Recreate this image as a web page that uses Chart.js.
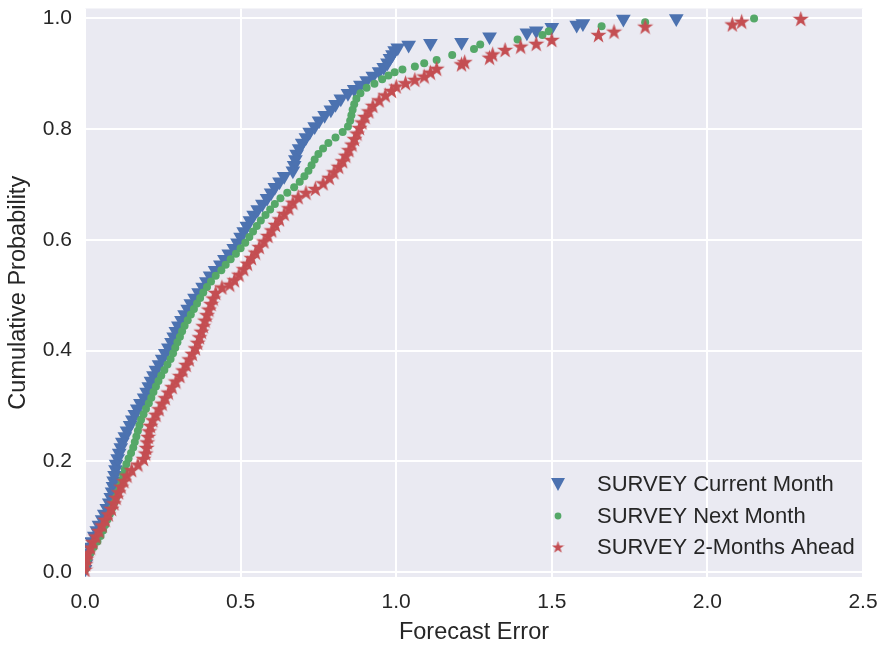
<!DOCTYPE html>
<html>
<head>
<meta charset="utf-8">
<script src="https://cdn.jsdelivr.net/npm/chart.js@4"></script>
<style>
  html, body { margin: 0; padding: 0; background: #fff; }
  #wrap { width: 883px; height: 647px; }
</style>
</head>
<body>
<div id="wrap"><canvas id="myChart" width="883" height="647"></canvas></div>
<script>
const seriesNames = ['SURVEY Current Month', 'SURVEY Next Month', 'SURVEY 2-Months Ahead'];
const xTicks = [0, 0.5, 1.0, 1.5, 2.0, 2.5];
const yTicks = [0, 0.2, 0.4, 0.6, 0.8, 1.0];

const xCurrent = [0.000, 0.003, 0.006, 0.010, 0.015, 0.022, 0.030, 0.038, 0.045, 0.055,
  0.062, 0.070, 0.078, 0.083, 0.087, 0.090, 0.092, 0.095, 0.098, 0.100,
  0.105, 0.110, 0.115, 0.120, 0.128, 0.135, 0.145, 0.152, 0.160, 0.168,
  0.178, 0.190, 0.198, 0.205, 0.212, 0.220, 0.228, 0.238, 0.248, 0.258,
  0.268, 0.278, 0.285, 0.292, 0.300, 0.310, 0.320, 0.330, 0.340, 0.352,
  0.365, 0.378, 0.390, 0.402, 0.418, 0.435, 0.448, 0.462, 0.478, 0.490,
  0.500, 0.510, 0.520, 0.530, 0.542, 0.555, 0.570, 0.585, 0.598, 0.610,
  0.625, 0.640, 0.668, 0.672, 0.676, 0.680, 0.688, 0.698, 0.710, 0.722,
  0.738, 0.752, 0.770, 0.790, 0.805, 0.822, 0.845, 0.865, 0.885, 0.905,
  0.925, 0.945, 0.960, 0.972, 0.980, 0.988, 0.995, 1.005, 1.040, 1.110,
  1.210, 1.300, 1.420, 1.450, 1.500, 1.580, 1.600, 1.730, 1.900];
const yCurrent = [0.005, 0.015, 0.025, 0.035, 0.045, 0.055, 0.065, 0.075, 0.085, 0.095,
  0.105, 0.115, 0.125, 0.135, 0.145, 0.155, 0.165, 0.175, 0.185, 0.195,
  0.205, 0.215, 0.225, 0.235, 0.245, 0.255, 0.265, 0.275, 0.285, 0.295,
  0.305, 0.315, 0.325, 0.335, 0.345, 0.355, 0.365, 0.375, 0.385, 0.395,
  0.405, 0.415, 0.425, 0.435, 0.445, 0.455, 0.465, 0.475, 0.485, 0.495,
  0.505, 0.515, 0.525, 0.535, 0.545, 0.555, 0.565, 0.575, 0.585, 0.595,
  0.605, 0.615, 0.625, 0.635, 0.645, 0.655, 0.665, 0.675, 0.685, 0.695,
  0.705, 0.715, 0.725, 0.735, 0.745, 0.755, 0.765, 0.775, 0.785, 0.795,
  0.805, 0.815, 0.825, 0.835, 0.845, 0.855, 0.865, 0.872, 0.880, 0.888,
  0.896, 0.904, 0.912, 0.920, 0.928, 0.935, 0.942, 0.947, 0.952, 0.955,
  0.957, 0.967, 0.974, 0.978, 0.984, 0.988, 0.991, 0.999, 1.000];

const xNext = [0.000, 0.004, 0.010, 0.018, 0.028, 0.040, 0.050, 0.058, 0.065, 0.072,
  0.080, 0.087, 0.094, 0.100, 0.106, 0.112, 0.118, 0.123, 0.128, 0.133,
  0.140, 0.148, 0.155, 0.160, 0.165, 0.170, 0.175, 0.180, 0.188, 0.196,
  0.205, 0.213, 0.220, 0.228, 0.236, 0.245, 0.255, 0.265, 0.275, 0.283,
  0.290, 0.297, 0.305, 0.312, 0.320, 0.330, 0.340, 0.350, 0.360, 0.370,
  0.380, 0.392, 0.405, 0.420, 0.438, 0.452, 0.468, 0.485, 0.500, 0.515,
  0.528, 0.540, 0.552, 0.565, 0.580, 0.595, 0.610, 0.628, 0.650, 0.672,
  0.690, 0.705, 0.718, 0.728, 0.738, 0.750, 0.765, 0.782, 0.805, 0.828,
  0.845, 0.852, 0.856, 0.860, 0.865, 0.872, 0.885, 0.905, 0.930, 0.955,
  0.975, 0.995, 1.020, 1.060, 1.090, 1.130, 1.180, 1.250, 1.270, 1.390,
  1.470, 1.490, 1.660, 1.800, 2.150];
const yNext = [0.005, 0.015, 0.025, 0.035, 0.045, 0.055, 0.065, 0.075, 0.085, 0.095,
  0.105, 0.115, 0.125, 0.135, 0.145, 0.155, 0.165, 0.175, 0.185, 0.195,
  0.205, 0.215, 0.225, 0.235, 0.245, 0.255, 0.265, 0.275, 0.285, 0.295,
  0.305, 0.315, 0.325, 0.335, 0.345, 0.355, 0.365, 0.375, 0.385, 0.395,
  0.405, 0.415, 0.425, 0.435, 0.445, 0.455, 0.465, 0.475, 0.485, 0.495,
  0.505, 0.515, 0.525, 0.535, 0.545, 0.555, 0.565, 0.575, 0.585, 0.595,
  0.605, 0.615, 0.625, 0.635, 0.645, 0.655, 0.665, 0.675, 0.685, 0.695,
  0.705, 0.715, 0.725, 0.735, 0.745, 0.755, 0.765, 0.775, 0.785, 0.795,
  0.805, 0.815, 0.825, 0.835, 0.845, 0.855, 0.865, 0.875, 0.882, 0.890,
  0.897, 0.903, 0.908, 0.913, 0.919, 0.925, 0.934, 0.945, 0.953, 0.962,
  0.970, 0.977, 0.986, 0.993, 1.000];

const xAhead = [0.000, 0.002, 0.005, 0.010, 0.018, 0.025, 0.035, 0.045, 0.055, 0.065,
  0.075, 0.085, 0.093, 0.100, 0.108, 0.116, 0.125, 0.135, 0.150, 0.170,
  0.188, 0.195, 0.198, 0.200, 0.203, 0.206, 0.210, 0.218, 0.228, 0.238,
  0.248, 0.258, 0.268, 0.280, 0.292, 0.305, 0.315, 0.325, 0.335, 0.345,
  0.355, 0.362, 0.368, 0.374, 0.380, 0.386, 0.392, 0.398, 0.405, 0.412,
  0.420, 0.440, 0.465, 0.480, 0.495, 0.510, 0.522, 0.535, 0.548, 0.560,
  0.575, 0.588, 0.600, 0.612, 0.625, 0.640, 0.655, 0.668, 0.685, 0.710,
  0.740, 0.765, 0.785, 0.800, 0.815, 0.828, 0.838, 0.848, 0.858, 0.866,
  0.874, 0.882, 0.890, 0.900, 0.912, 0.925, 0.945, 0.965, 0.985, 1.000,
  1.030, 1.060, 1.090, 1.110, 1.130, 1.210, 1.220, 1.300, 1.310, 1.350,
  1.400, 1.450, 1.500, 1.650, 1.700, 1.800, 2.080, 2.110, 2.300];
const yAhead = [0.005, 0.015, 0.025, 0.035, 0.045, 0.055, 0.065, 0.075, 0.085, 0.095,
  0.105, 0.115, 0.125, 0.135, 0.145, 0.155, 0.165, 0.175, 0.185, 0.195,
  0.205, 0.215, 0.225, 0.235, 0.245, 0.255, 0.265, 0.275, 0.285, 0.295,
  0.305, 0.315, 0.325, 0.335, 0.345, 0.355, 0.365, 0.375, 0.385, 0.395,
  0.405, 0.415, 0.425, 0.435, 0.445, 0.455, 0.465, 0.475, 0.485, 0.495,
  0.505, 0.515, 0.520, 0.528, 0.538, 0.548, 0.558, 0.568, 0.578, 0.588,
  0.598, 0.608, 0.618, 0.628, 0.638, 0.648, 0.658, 0.668, 0.678, 0.686,
  0.693, 0.703, 0.713, 0.723, 0.733, 0.743, 0.753, 0.763, 0.773, 0.783,
  0.793, 0.803, 0.813, 0.823, 0.833, 0.843, 0.853, 0.862, 0.870, 0.878,
  0.884, 0.890, 0.896, 0.903, 0.910, 0.918, 0.922, 0.930, 0.936, 0.944,
  0.950, 0.955, 0.962, 0.971, 0.977, 0.986, 0.990, 0.995, 1.000];

const BLUE = '#4C72B0', GREEN = '#55A868', RED = '#C44E52', TEXT = '#262626';
Chart.defaults.font.family = '"Liberation Sans", Arial, sans-serif';

function pts(xs, ys) {
  return xs.map((x, i) => ({ x: x, y: ys[i] }));
}

// filled five-pointed star like matplotlib's '*' marker
function starImage(size, color) {
  const c = document.createElement('canvas');
  c.width = size; c.height = size;
  const g = c.getContext('2d');
  const R = size / 2, r = R * 0.39;
  g.beginPath();
  for (let i = 0; i < 10; i++) {
    const a = -Math.PI / 2 + i * Math.PI / 5;
    const rad = i % 2 ? r : R;
    g.lineTo(R + rad * Math.cos(a), R + 1 + rad * Math.sin(a));
  }
  g.closePath();
  g.fillStyle = color;
  g.fill();
  return c;
}
const starBig = starImage(17, RED);
const starSmall = starImage(13, RED);

const bgPlugin = {
  id: 'plotBg',
  beforeDraw(chart) {
    const a = chart.chartArea, ctx = chart.ctx;
    ctx.save();
    ctx.fillStyle = '#EAEAF2';
    ctx.fillRect(a.left, a.top, a.right - a.left, a.bottom - a.top);
    ctx.restore();
  }
};

const legendPlugin = {
  id: 'insideLegend',
  afterDraw(chart) {
    const ctx = chart.ctx;
    const mx = 558, tx = 597;
    const rows = [484, 516, 547];
    ctx.save();
    // triangle down
    ctx.fillStyle = BLUE;
    ctx.beginPath();
    ctx.moveTo(mx - 7, rows[0] - 6);
    ctx.lineTo(mx + 7, rows[0] - 6);
    ctx.lineTo(mx, rows[0] + 7);
    ctx.closePath();
    ctx.fill();
    // dot
    ctx.fillStyle = GREEN;
    ctx.beginPath();
    ctx.arc(mx, rows[1], 3.4, 0, Math.PI * 2);
    ctx.fill();
    // star
    ctx.drawImage(starSmall, mx - 6.5, rows[2] - 7);
    ctx.fillStyle = TEXT;
    ctx.font = '22px "Liberation Sans", Arial, sans-serif';
    ctx.textBaseline = 'middle';
    ctx.textAlign = 'left';
    seriesNames.forEach((n, i) => ctx.fillText(n, tx, rows[i] + 1));
    ctx.restore();
  }
};

const grafica = document.getElementById('myChart').getContext('2d');
new Chart(grafica, {
  type: 'scatter',
  data: {
    datasets: [{
      label: seriesNames[0],
      data: pts(xCurrent, yCurrent),
      pointStyle: 'triangle',
      pointRotation: 180,
      pointRadius: 8.5,
      pointBackgroundColor: BLUE,
      pointBorderWidth: 0,
      order: 3
    }, {
      label: seriesNames[1],
      data: pts(xNext, yNext),
      pointStyle: 'circle',
      pointRadius: 4,
      pointBackgroundColor: GREEN,
      pointBorderWidth: 0,
      order: 2
    }, {
      label: seriesNames[2],
      data: pts(xAhead, yAhead),
      pointStyle: starBig,
      pointRadius: 8,
      pointBorderWidth: 0,
      order: 1
    }]
  },
  options: {
    responsive: false,
    animation: false,
    events: [],
    layout: { padding: { top: 7, right: 20, left: 0, bottom: 0 } },
    plugins: { legend: { display: false }, tooltip: { enabled: false } },
    scales: {
      x: {
        type: 'linear',
        min: 0,
        max: 2.5,
        afterBuildTicks: s => { s.ticks = xTicks.map(v => ({ value: v })); },
        afterFit: s => { s.height = 70; s.paddingLeft = 0; s.paddingRight = 0; },
        grid: { color: '#ffffff', lineWidth: 2, drawTicks: false },
        border: { display: false },
        ticks: { padding: 13, color: TEXT, font: { size: 21 }, callback: v => v.toFixed(1) },
        title: { display: true, text: 'Forecast Error', color: TEXT, font: { size: 23.5 }, padding: { top: 0, bottom: 0 } }
      },
      y: {
        type: 'linear',
        min: -0.009,
        max: 1.018,
        afterBuildTicks: s => { s.ticks = yTicks.map(v => ({ value: v })); },
        afterFit: s => { s.width = 85; s.paddingTop = 0; s.paddingBottom = 0; },
        grid: { color: '#ffffff', lineWidth: 2, drawTicks: false },
        border: { display: false },
        ticks: { padding: 13, color: TEXT, font: { size: 21 }, callback: v => v.toFixed(1) },
        title: { display: true, text: 'Cumulative Probability', color: TEXT, font: { size: 23.5 }, padding: { top: 4, bottom: 0 } }
      }
    }
  },
  plugins: [bgPlugin, legendPlugin]
});
</script>
</body>
</html>
